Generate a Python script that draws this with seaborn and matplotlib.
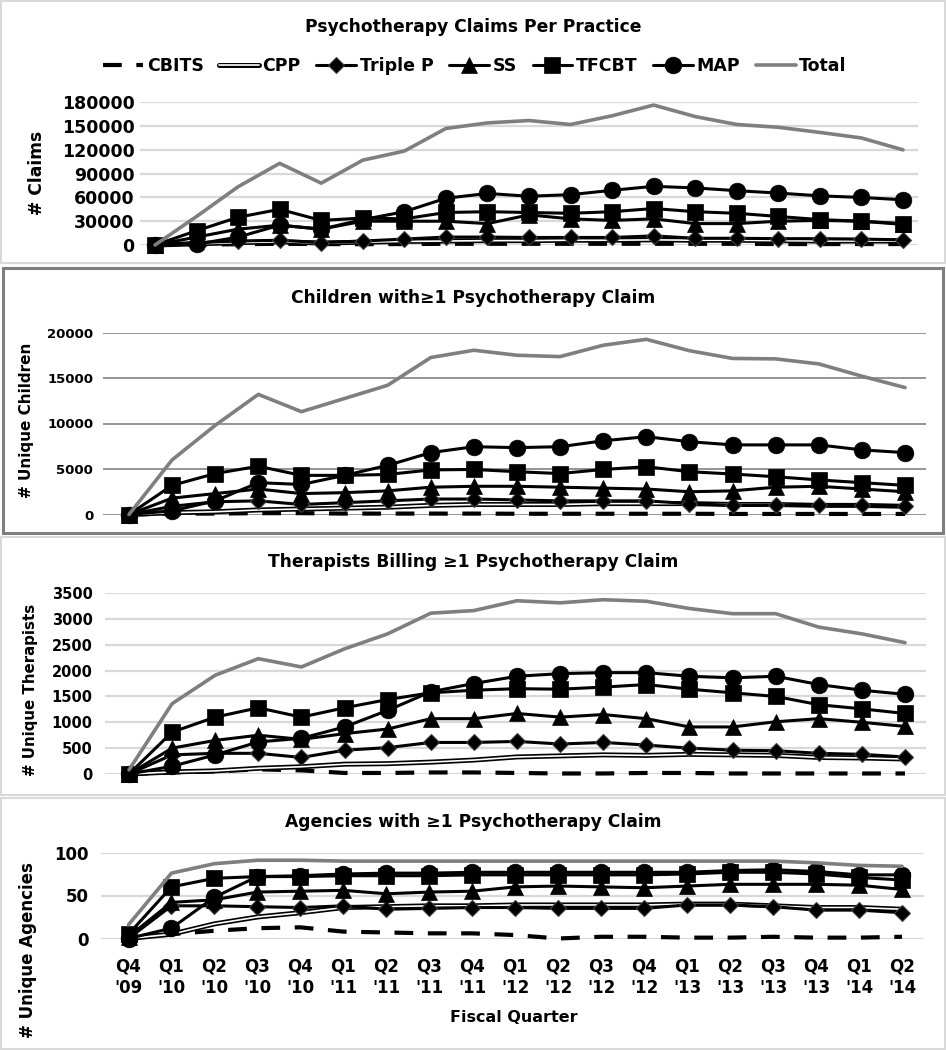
import numpy as np
import pandas as pd
import seaborn as sns
import matplotlib.pyplot as plt
import matplotlib.patheffects as pe
from matplotlib.lines import Line2D
from matplotlib.patches import Rectangle

# Fiscal quarters (x axis)
quarters = ["Q4\n'09", "Q1\n'10", "Q2\n'10", "Q3\n'10", "Q4\n'10", "Q1\n'11", "Q2\n'11",
            "Q3\n'11", "Q4\n'11", "Q1\n'12", "Q2\n'12", "Q3\n'12", "Q4\n'12", "Q1\n'13",
            "Q2\n'13", "Q3\n'13", "Q4\n'13", "Q1\n'14", "Q2\n'14"]
programs = ["CBITS", "CPP", "Triple P", "SS", "TFCBT", "MAP", "Total"]

# Psychotherapy claims per practice
claims_cbits = [0, 500, 1000, 1500, 1200, 1000, 1200, 1500, 1500, 1500, 1500, 1500, 1500, 1500, 1500, 1200, 1200, 1200, 1200]
claims_cpp = [0, 1500, 3000, 4000, 2500, 3500, 4500, 5000, 5500, 5500, 6000, 6000, 6500, 6000, 6000, 5500, 5000, 5000, 5000]
claims_triplep = [0, 3000, 5000, 6000, 3000, 5000, 7500, 10000, 10000, 9500, 9500, 9500, 11500, 8500, 8500, 8000, 8000, 7500, 6500]
claims_ss = [0, 10000, 20000, 25000, 20000, 30000, 30000, 30000, 27000, 38000, 33000, 31000, 33000, 27000, 27000, 30000, 31000, 30000, 27000]
claims_tfcbt = [0, 18000, 35000, 45000, 31000, 34000, 33000, 41000, 42000, 41000, 40000, 42000, 46000, 42000, 40000, 36000, 32000, 30000, 26000]
claims_map = [0, 1000, 10000, 25000, 20000, 32000, 42000, 59000, 65000, 61500, 63500, 69000, 74000, 72000, 68500, 65500, 62000, 60000, 57000]
claims_total = [0, 36000, 73500, 103000, 78000, 107000, 118500, 147000, 154000, 157000, 152000, 163000, 176500, 162000, 152000, 148500, 142000, 135000, 120000]

# Children with >=1 claim
children_cbits = [0, 100, 100, 150, 150, 100, 100, 100, 100, 80, 80, 80, 80, 80, 60, 60, 60, 60, 60]
children_cpp = [0, 200, 300, 500, 600, 700, 800, 1000, 1100, 1100, 1100, 1200, 1200, 1200, 1100, 1100, 1000, 1000, 900]
children_triplep = [0, 900, 1400, 1500, 1100, 1300, 1500, 1700, 1700, 1600, 1500, 1500, 1500, 1200, 1000, 1000, 1000, 1000, 900]
children_ss = [0, 1800, 2300, 2800, 2300, 2400, 2600, 3000, 3100, 3100, 3000, 2900, 2800, 2500, 2600, 3000, 3100, 2800, 2500]
children_tfcbt = [0, 3200, 4500, 5300, 4300, 4300, 4400, 4900, 4950, 4700, 4500, 4950, 5250, 4700, 4450, 4150, 3800, 3500, 3200]
children_map = [0, 400, 1500, 3500, 3300, 4300, 5400, 6800, 7450, 7350, 7450, 8100, 8550, 8000, 7650, 7650, 7650, 7100, 6800]
children_total = [0, 6000, 9800, 13200, 11300, 12750, 14200, 17250, 18050, 17500, 17350, 18600, 19250, 18000, 17150, 17100, 16550, 15200, 13950]

# Therapists billing >=1 claim
ther_cbits = [0, 30, 50, 90, 70, 20, 20, 30, 30, 20, 10, 10, 20, 20, 10, 10, 10, 10, 10]
ther_cpp = [0, 40, 60, 110, 140, 190, 200, 230, 270, 330, 350, 370, 360, 380, 370, 360, 320, 310, 290]
ther_triplep = [0, 370, 400, 400, 320, 460, 510, 610, 610, 630, 580, 610, 560, 500, 460, 450, 400, 380, 330]
ther_ss = [0, 500, 650, 750, 670, 780, 870, 1070, 1070, 1170, 1100, 1150, 1070, 910, 910, 1010, 1070, 1000, 920]
ther_tfcbt = [0, 810, 1100, 1280, 1100, 1280, 1440, 1570, 1620, 1650, 1640, 1680, 1730, 1640, 1570, 1500, 1340, 1260, 1170]
ther_map = [0, 150, 370, 620, 690, 910, 1230, 1590, 1750, 1890, 1940, 1960, 1960, 1890, 1860, 1890, 1730, 1620, 1540]
ther_total = [80, 1360, 1910, 2230, 2070, 2420, 2710, 3110, 3160, 3350, 3310, 3370, 3340, 3200, 3100, 3100, 2840, 2710, 2540]

# Agencies with >=1 claim
agency_cbits = [0, 5, 9, 12, 13, 8, 7, 6, 6, 4, 0, 2, 2, 1, 1, 2, 1, 1, 2]
agency_cpp = [0, 5, 17, 25, 30, 36, 37, 38, 38, 39, 39, 39, 39, 40, 40, 38, 36, 36, 34]
agency_triplep = [0, 38, 38, 37, 36, 38, 34, 35, 36, 36, 35, 35, 35, 39, 39, 37, 33, 33, 30]
agency_ss = [2, 42, 45, 54, 55, 56, 52, 54, 55, 60, 61, 60, 59, 61, 63, 63, 63, 62, 57]
agency_tfcbt = [5, 60, 70, 72, 72, 73, 73, 73, 74, 74, 74, 74, 74, 75, 77, 77, 75, 71, 68]
agency_map = [0, 12, 48, 72, 73, 75, 76, 76, 77, 77, 77, 77, 77, 77, 79, 80, 78, 74, 74]
agency_total = [16, 76, 87, 91, 91, 90, 90, 90, 90, 90, 90, 90, 90, 90, 90, 90, 88, 85, 84]

sns.set_style("white")
plt.rcParams["font.family"] = ["DejaVu Sans"]
plt.rcParams["font.weight"] = "bold"
for key in ["text.color", "axes.labelcolor", "xtick.color", "ytick.color"]:
    plt.rcParams[key] = "black"

# line style of each program
styles = {
    "CBITS": dict(color="black", lw=3, linestyle=(0, (4.5, 3.5)), solid_capstyle="butt"),
    "CPP": dict(color="white", lw=1.2,
                path_effects=[pe.Stroke(linewidth=3.6, foreground="black"), pe.Normal()]),
    "Triple P": dict(color="black", lw=2.2, marker="D", ms=8.5, mec="#404040", mew=0.8),
    "SS": dict(color="black", lw=2.2, marker="^", ms=11, mec="black", mew=0.5),
    "TFCBT": dict(color="black", lw=2.2, marker="s", ms=11, mec="black", mew=0.5),
    "MAP": dict(color="black", lw=2.2, marker="o", ms=12, mec="black", mew=0.5),
    "Total": dict(color="#7f7f7f", lw=2.6),
}

W, H = 946, 1050
fig = plt.figure(figsize=(W / 100, H / 100), dpi=100)


def box(l, t, r, b):
    return [l / W, 1 - b / H, (r - l) / W, (b - t) / H]


# panel frames
for (l, t, r, b), col, lw in [((1, 1, 945, 263), "#d9d9d9", 1.5),
                              ((3, 268, 943, 533), "#7f7f7f", 2.2),
                              ((1, 537, 945, 795), "#d9d9d9", 1.5),
                              ((1, 798, 945, 1049), "#d9d9d9", 1.5)]:
    fig.patches.append(Rectangle((l / W, 1 - b / H), (r - l) / W, (b - t) / H,
                                 transform=fig.transFigure, fill=False,
                                 edgecolor=col, lw=lw))

panels = [
    dict(title="Psychotherapy Claims Per Practice", ylabel="# Claims",
         data=[claims_cbits, claims_cpp, claims_triplep, claims_ss, claims_tfcbt, claims_map, claims_total],
         ticks=np.arange(0, 180001, 30000), px=(140, 102.3, 918, 245), pts=(155, 903),
         title_y=26.7, ylab=(37, 173, 12.3), tsize=12.5, pad=4, grid=("#d9d9d9", 1.6)),
    dict(title="Children with\u22651 Psychotherapy Claim", ylabel="# Unique Children",
         data=[children_cbits, children_cpp, children_triplep, children_ss, children_tfcbt, children_map, children_total],
         ticks=np.arange(0, 20001, 5000), px=(103, 332.5, 926, 514.5), pts=(129, 905),
         title_y=298, ylab=(27, 420, 11), tsize=9.5, pad=7, grid=("#8c8c8c", 1.3)),
    dict(title="Therapists Billing \u22651 Psychotherapy Claim", ylabel="# Unique Therapists",
         data=[ther_cbits, ther_cpp, ther_triplep, ther_ss, ther_tfcbt, ther_map, ther_total],
         ticks=np.arange(0, 3501, 500), px=(105, 593, 926, 774), pts=(129, 905),
         title_y=561.7, ylab=(30, 690, 10.8), tsize=10.5, pad=9, grid=("#d9d9d9", 1.6)),
    dict(title="Agencies with \u22651 Psychotherapy Claim", ylabel="# Unique Agencies",
         data=[agency_cbits, agency_cpp, agency_triplep, agency_ss, agency_tfcbt, agency_map, agency_total],
         ticks=np.arange(0, 101, 50), px=(101, 852.5, 924, 938.5), pts=(128.5, 902),
         title_y=821.7, ylab=(28, 950, 12), tsize=12, pad=9, grid=("#d9d9d9", 1.6)),
]

x = np.arange(len(quarters))
for k, p in enumerate(panels):
    l, t, r, b = p["px"]
    ax = fig.add_axes(box(l, t, r, b))
    first, last = p["pts"]
    step = (last - first) / (len(quarters) - 1)
    for z, (name, vals) in enumerate(zip(programs, p["data"])):
        sns.lineplot(x=x, y=vals, ax=ax, errorbar=None, clip_on=False,
                     zorder=3 + z, **styles[name])
    ax.set_xlim((l - first) / step, len(quarters) - 1 + (r - last) / step)
    ax.set_ylim(0, p["ticks"][-1])
    ax.set_yticks(p["ticks"])
    ax.set_yticklabels([str(v) for v in p["ticks"]])
    ax.tick_params(axis="y", length=0, labelsize=p["tsize"], pad=p["pad"])
    ax.grid(axis="y", color=p["grid"][0], lw=p["grid"][1])
    ax.set_axisbelow(True)
    sns.despine(ax=ax, left=True, bottom=True)
    if k == 3:
        ax.set_xticks(x)
        ax.set_xticklabels(quarters, fontsize=12, linespacing=1.25)
        ax.tick_params(axis="x", length=0, pad=14)
    else:
        ax.set_xticks([])
    fig.text(473 / W, 1 - p["title_y"] / H, p["title"], ha="center", va="center", fontsize=12.3)
    fig.text(p["ylab"][0] / W, 1 - p["ylab"][1] / H, p["ylabel"], rotation=90,
             ha="center", va="center", fontsize=p["ylab"][2])

fig.text(514 / W, 1 - 1017 / H, "Fiscal Quarter", ha="center", va="center", fontsize=11.5)

# legend across the top panel
handles = [Line2D([], [], **styles[n]) for n in programs]
fig.legend(handles, programs, loc="center", bbox_to_anchor=(475 / W, 1 - 66 / H),
           ncol=7, frameon=False, fontsize=12.5, handlelength=2.3,
           handletextpad=0.2, columnspacing=0.9)

fig.savefig("out.png", dpi=100)
